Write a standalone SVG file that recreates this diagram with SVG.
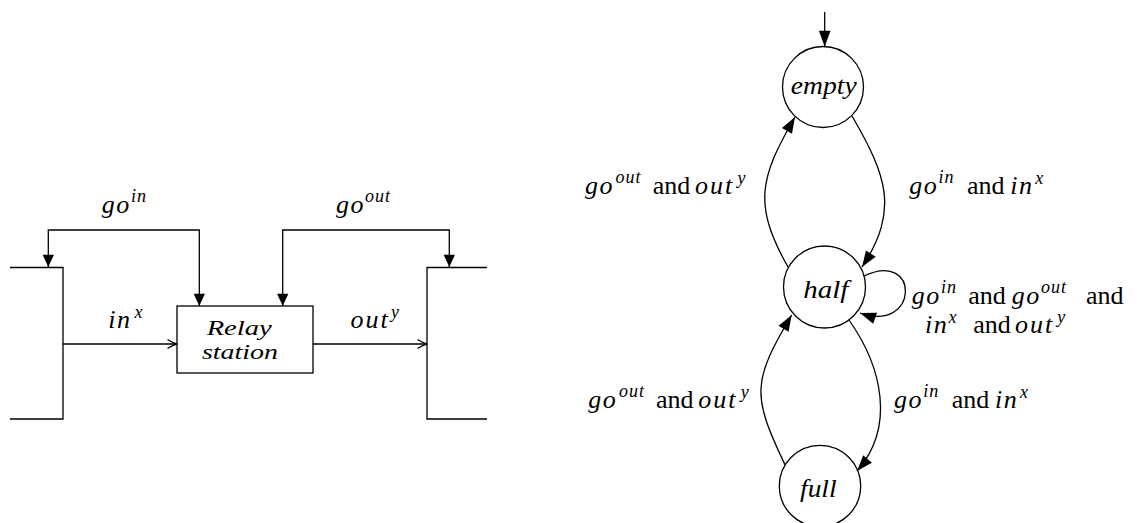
<svg xmlns="http://www.w3.org/2000/svg" width="1142" height="523" viewBox="0 0 1142 523">
<style>
  .ln { fill: none; stroke: #000; stroke-width: 1.3; }
  .t { font-size: 26px; fill: #000; }
  .m { font-style: italic; }
  .w { letter-spacing: 1.5px; }
  .ww { letter-spacing: 2px; }
  .s { font-style: italic; font-size: 18px; letter-spacing: 1px; }
  .n { font-size: 20px; }
</style>
<defs>
  <marker id="fa" markerUnits="userSpaceOnUse" markerWidth="14" markerHeight="12" refX="12.3" refY="5.65" orient="auto-start-reverse" overflow="visible">
    <path d="M0,0 L12.3,5.65 L0,11.3 Z" fill="#000"/>
  </marker>
  <marker id="fb" markerUnits="userSpaceOnUse" markerWidth="18" markerHeight="13" refX="16" refY="5.8" orient="auto" overflow="visible">
    <path d="M0,0 L16,5.8 L0,11.6 Z" fill="#000"/>
  </marker>
  <marker id="op" markerUnits="userSpaceOnUse" markerWidth="12" markerHeight="12" refX="10" refY="5" orient="auto" overflow="visible">
    <path d="M0.5,0.5 Q6,4 10,5 Q6,6 0.5,9.5" fill="none" stroke="#000" stroke-width="1.3"/>
  </marker>
</defs>
<rect width="1142" height="523" fill="#fff"/>

<g font-family="'Liberation Serif', 'Times New Roman', Tinos, 'DejaVu Serif', serif">
<!-- Left diagram nodes -->
<g id="node-left-buffer">
  <polyline class="ln" points="10,267.5 63,267.5 63,419 10,419"/>
</g>
<g id="node-relay">
  <rect class="ln" x="177" y="306" width="136" height="67"/>
  <text class="t m n" x="239.2" y="335" text-anchor="middle" textLength="65" lengthAdjust="spacingAndGlyphs">Relay</text>
  <text class="t m n" x="240" y="359" text-anchor="middle" textLength="76" lengthAdjust="spacingAndGlyphs">station</text>
</g>
<g id="node-right-buffer">
  <polyline class="ln" points="487,267.5 427,267.5 427,419 487,419"/>
</g>

<!-- Right diagram nodes -->
<g id="node-empty">
  <circle class="ln" cx="823" cy="87" r="40.5"/>
  <text class="t m" x="823.7" y="94" text-anchor="middle" textLength="66" lengthAdjust="spacingAndGlyphs">empty</text>
</g>
<g id="node-half">
  <circle class="ln" cx="824.5" cy="287" r="41"/>
  <text class="t m" x="825.8" y="298.3" text-anchor="middle" textLength="45" lengthAdjust="spacingAndGlyphs">half</text>
</g>
<g id="node-full">
  <circle class="ln" cx="820" cy="486" r="40.7"/>
  <text class="t m" x="818.3" y="497" text-anchor="middle" textLength="36.5" lengthAdjust="spacingAndGlyphs">full</text>
</g>

<!-- Connectors -->
<g id="connectors">
  <path class="ln" d="M63,344 H177" marker-end="url(#op)"/>
  <path class="ln" d="M313,344 H427" marker-end="url(#op)"/>
  <path class="ln" d="M48.3,267 V230 H199.3 V306" marker-start="url(#fa)" marker-end="url(#fa)"/>
  <path class="ln" d="M282.7,306 V230 H449.3 V267" marker-start="url(#fa)" marker-end="url(#fa)"/>

  <path class="ln" d="M824.7,12 V46.7" marker-end="url(#fb)"/>
  <path class="ln" d="M852,116 C886.3,175 899.7,210 862,267" marker-end="url(#fb)"/>
  <path class="ln" d="M788,267 C753,205 759.3,178.4 795,117" marker-end="url(#fb)"/>
  <path class="ln" d="M849,320 C882.6,367.6 895.3,427.5 857,471" marker-end="url(#fb)"/>
  <path class="ln" d="M785,464.7 C751.6,394.9 752.1,381.7 791.7,315" marker-end="url(#fb)"/>
  <path class="ln" d="M864,276 C920.7,249 919,333.8 860,313" marker-end="url(#fb)"/>
</g>

<!-- Connector labels -->
<g id="connector-labels">
  <text class="t"><tspan class="m w" x="101.7" y="213">go</tspan><tspan class="s" x="131" y="202">in</tspan></text>
  <text class="t"><tspan class="m w" x="336" y="213">go</tspan><tspan class="s" x="365" y="202">out</tspan></text>
  <text class="t"><tspan class="m w" x="108.3" y="328.3">in</tspan><tspan class="s" x="134.5" y="317.8">x</tspan></text>
  <text class="t"><tspan class="m ww" x="350.5" y="328.3">out</tspan><tspan class="s" x="391" y="317.8">y</tspan></text>

  <text class="t"><tspan class="m w" x="585" y="194.3">go</tspan><tspan class="s" x="615.5" y="183.3">out</tspan><tspan x="652.7" y="194.3">and</tspan><tspan class="m ww" x="695" y="194.3">out</tspan><tspan class="s" x="737.5" y="183.8">y</tspan></text>
  <text class="t"><tspan class="m w" x="909.2" y="194.3">go</tspan><tspan class="s" x="938.5" y="183.3">in</tspan><tspan x="966.9" y="194.3">and</tspan><tspan class="m w" x="1010.2" y="194.3">in</tspan><tspan class="s" x="1035.2" y="183.8">x</tspan></text>

  <text class="t"><tspan class="m w" x="911.7" y="304.3">go</tspan><tspan class="s" x="941" y="293.3">in</tspan><tspan x="968.3" y="304.3">and</tspan><tspan class="m w" x="1011.7" y="304.3">go</tspan><tspan class="s" x="1041" y="293.3">out</tspan><tspan x="1086" y="304.3">and</tspan></text>
  <text class="t"><tspan class="m w" x="925" y="333.3">in</tspan><tspan class="s" x="948.5" y="322.8">x</tspan><tspan x="973.3" y="333.3">and</tspan><tspan class="m ww" x="1015" y="333.3">out</tspan><tspan class="s" x="1057.2" y="322.8">y</tspan></text>

  <text class="t"><tspan class="m w" x="588.3" y="408.3">go</tspan><tspan class="s" x="619" y="397.3">out</tspan><tspan x="656" y="408.3">and</tspan><tspan class="m ww" x="698.3" y="408.3">out</tspan><tspan class="s" x="740.8" y="397.8">y</tspan></text>
  <text class="t"><tspan class="m w" x="894" y="408.3">go</tspan><tspan class="s" x="923.3" y="397.3">in</tspan><tspan x="951.7" y="408.3">and</tspan><tspan class="m w" x="995" y="408.3">in</tspan><tspan class="s" x="1020" y="397.8">x</tspan></text>
</g>
</g>
</svg>
